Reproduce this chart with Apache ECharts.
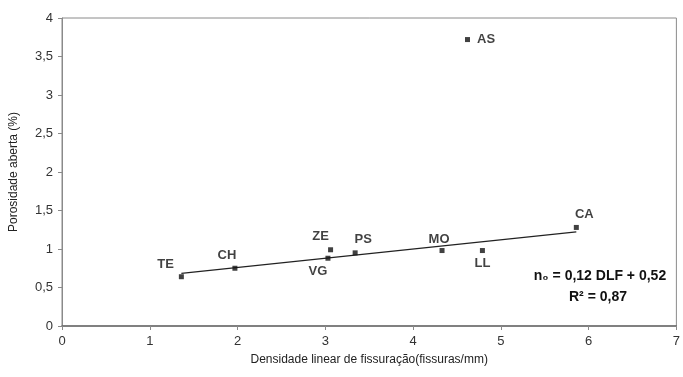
<!DOCTYPE html>
<html>
<head>
<meta charset="utf-8">
<script src="https://cdn.jsdelivr.net/npm/echarts@6/dist/echarts.min.js"></script>
<style>
  html, body { margin: 0; padding: 0; background: #fff; }
  #chart { width: 683px; height: 377px; }
</style>
</head>
<body>
<div id="chart"></div>
<script>
// Rock samples: linear crack density vs open porosity
const sampleNames = ['TE', 'CH', 'VG', 'ZE', 'PS', 'MO', 'AS', 'LL', 'CA'];
const crackDensity = [1.36, 1.97, 3.03, 3.06, 3.34, 4.33, 4.62, 4.79, 5.86];
const openPorosity = [0.64, 0.75, 0.88, 0.99, 0.95, 0.98, 3.72, 0.98, 1.28];

// Linear fit n0 = 0.12 DLF + 0.52 (AS excluded)
const fitSlope = 0.12;
const fitIntercept = 0.52;
const fitRange = [1.36, 5.86];
const rSquared = 0.87;

const xTicks = [0, 1, 2, 3, 4, 5, 6, 7];
const yTicks = [0, 0.5, 1, 1.5, 2, 2.5, 3, 3.5, 4];

// label placement per sample (style only)
const labelStyle = {
  TE: { position: 'left', offset: [-1, -12] },
  CH: { position: 'top', offset: [-8, 0] },
  VG: { position: 'bottom', offset: [-10, 0] },
  ZE: { position: 'top', offset: [-10, 0] },
  PS: { position: 'top', offset: [8, 0] },
  MO: { position: 'top', offset: [-3, 2] },
  AS: { position: 'right', offset: [3, 0] },
  LL: { position: 'bottom', offset: [0, 0] },
  CA: { position: 'top', offset: [8, 0] }
};

const fmt = v => String(v).replace('.', ',');

const points = sampleNames.map((n, i) => ({
  name: n,
  value: [crackDensity[i], openPorosity[i]],
  label: Object.assign({ show: true, formatter: n }, labelStyle[n])
}));

const fitLine = fitRange.map(x => [x, fitSlope * x + fitIntercept]);

const eqFont = { fontSize: 14, fontWeight: 'bold', fill: '#111', fontFamily: 'Liberation Sans, Arial, sans-serif', align: 'center', verticalAlign: 'middle' };

const chart = echarts.init(document.getElementById('chart'));
chart.setOption({
  animation: false,
  backgroundColor: '#fff',
  textStyle: { fontFamily: 'Liberation Sans, Arial, sans-serif' },
  grid: { left: 62, right: 2, top: 18, bottom: 51, show: true, borderColor: '#8a8a8a', borderWidth: 1 },
  xAxis: {
    type: 'value', min: xTicks[0], max: xTicks[xTicks.length - 1], interval: 1,
    name: 'Densidade linear de fissuração(fissuras/mm)',
    nameLocation: 'middle', nameGap: 28,
    nameTextStyle: { fontSize: 12, color: '#222' },
    axisLine: { lineStyle: { color: '#6a6a6a', width: 1.5 } },
    axisTick: { show: true, inside: false, length: 4, lineStyle: { color: '#8a8a8a' } },
    axisLabel: { fontSize: 13, color: '#333', margin: 9, formatter: fmt },
    splitLine: { show: false }
  },
  yAxis: {
    type: 'value', min: yTicks[0], max: yTicks[yTicks.length - 1], interval: 0.5,
    name: 'Porosidade aberta (%)',
    nameLocation: 'middle', nameGap: 42,
    nameTextStyle: { fontSize: 12, color: '#222' },
    axisLine: { show: true, lineStyle: { color: '#8a8a8a', width: 1 } },
    axisTick: { show: true, inside: false, length: 4, lineStyle: { color: '#8a8a8a' } },
    axisLabel: { fontSize: 13, color: '#333', margin: 9, formatter: fmt },
    splitLine: { show: false }
  },
  series: [
    {
      type: 'line',
      data: fitLine,
      symbol: 'none',
      lineStyle: { color: '#222', width: 1.3 },
      silent: true,
      z: 2
    },
    {
      type: 'scatter',
      data: points,
      symbol: 'rect',
      symbolSize: 5,
      itemStyle: { color: '#111' },
      label: { fontSize: 13, fontWeight: 'bold', color: '#111', distance: 4 },
      z: 3
    }
  ],
  graphic: [
    {
      type: 'text', x: 600, y: 276,
      style: Object.assign({ text: 'n₀ = ' + fmt(fitSlope) + ' DLF + ' + fmt(fitIntercept) }, eqFont)
    },
    {
      type: 'text', x: 598, y: 297,
      style: Object.assign({ text: 'R² = ' + fmt(rSquared) }, eqFont)
    }
  ]
});
</script>
</body>
</html>
